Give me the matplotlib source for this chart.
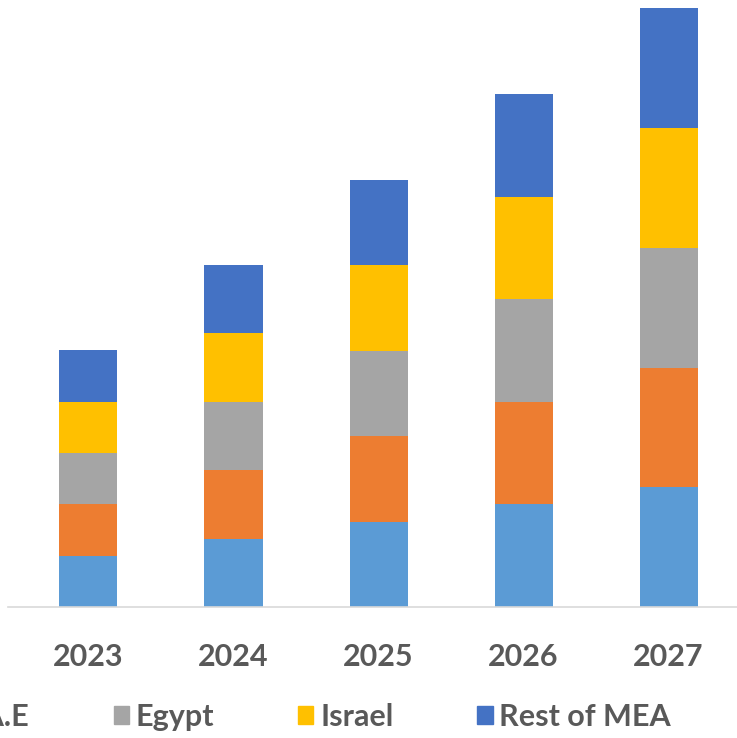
import matplotlib.pyplot as plt
from matplotlib.patches import Rectangle

# values (one unit ~ 34 px), stacked bottom to top
years = ['2023', '2024', '2025', '2026', '2027']
saudi_arabia = [1.5, 2.0, 2.5, 3.0, 3.5]
uae = [1.5, 2.0, 2.5, 3.0, 3.5]
egypt = [1.5, 2.0, 2.5, 3.0, 3.5]
israel = [1.5, 2.0, 2.5, 3.0, 3.5]
rest_of_mea = [1.5, 2.0, 2.5, 3.0, 3.5]

series = [saudi_arabia, uae, egypt, israel, rest_of_mea]
names = ['Saudi Arabia', 'U.A.E', 'Egypt', 'Israel', 'Rest of MEA']
colors = ['#5B9BD5', '#ED7D31', '#A5A5A5', '#FFC000', '#4472C4']

plt.rcParams['font.family'] = ['Lato', 'DejaVu Sans']

fig = plt.figure(figsize=(7.37, 7.38), dpi=100)
ax = fig.add_axes([8 / 737, 1 - 607 / 738, 1 - 8 / 737, 607 / 738])

x = list(range(len(years)))
bottom = [0] * len(years)
for vals, name, c in zip(series, names, colors):
    ax.bar(x, vals, bottom=bottom, width=0.4, color=c, label=name, zorder=2)
    bottom = [b + v for b, v in zip(bottom, vals)]

ax.set_xlim(-0.555, 4.472)
ax.set_ylim(0, 607 / 34.2)
for s in ['left', 'right', 'top']:
    ax.spines[s].set_visible(False)
ax.spines['bottom'].set_color('#d9d9d9')
ax.spines['bottom'].set_linewidth(1.2)
ax.set_yticks([])
ax.set_xticks(x)
ax.set_xticklabels(years)
ax.tick_params(axis='x', length=0, pad=26, labelsize=22, labelcolor='#595959')
for t in ax.get_xticklabels():
    t.set_fontweight('bold')

# legend is partly cut off at the left edge, as in the source image
handles = [Rectangle((0, 0), 1, 1, color=c) for c in colors]
fig.legend(handles, names, ncol=5, frameon=False, loc='center right',
           bbox_to_anchor=(671 / 737, 1 - 717 / 738), borderpad=0,
           borderaxespad=0, handlelength=0.5, handleheight=0.5,
           handletextpad=0.22, columnspacing=2.75,
           prop={'size': 22, 'weight': 'bold'}, labelcolor='#595959')

fig.savefig('out.png', dpi=100)
